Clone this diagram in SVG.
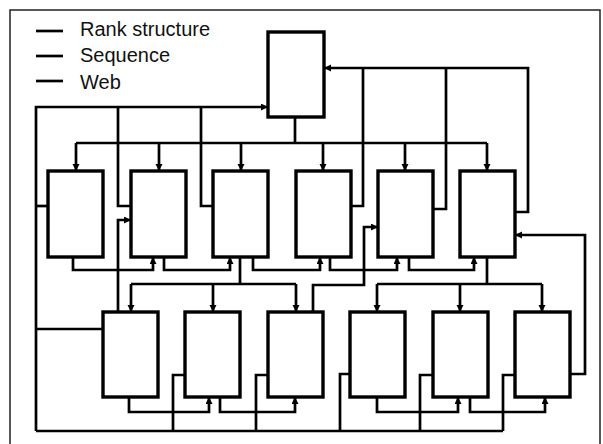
<svg xmlns="http://www.w3.org/2000/svg" width="603" height="444" viewBox="0 0 603 444">
<defs>
<style>
.box{fill:#fff;stroke:#000;stroke-width:3.4}
.ln{fill:none;stroke:#000;stroke-width:2.7;stroke-linejoin:miter}
.arr{marker-end:url(#ah)}
.txt{font-family:"Liberation Sans",Arial,sans-serif;font-size:20px;fill:#111}
.frame{fill:none;stroke:#222;stroke-width:1.5}
</style>
<marker id="ah" markerUnits="userSpaceOnUse" markerWidth="8" markerHeight="8" refX="7" refY="3.5" orient="auto">
<path d="M0,0 L7,3.5 L0,7 z" fill="#000"/>
</marker>
</defs>
<rect width="603" height="444" fill="#fff"/>
<path class="frame" d="M10,446 V10 H600 V446"/>
<g id="legend">
<line class="ln" x1="36" y1="31" x2="63" y2="31"/>
<line class="ln" x1="36" y1="56" x2="63" y2="56"/>
<line class="ln" x1="36" y1="81" x2="63" y2="81"/>
<text class="txt" x="80" y="36">Rank structure</text>
<text class="txt" x="80" y="62">Sequence</text>
<text class="txt" x="80" y="89">Web</text>
</g>
<g id="connectors">
<!-- rank structure -->
<path class="ln" d="M295,117 V143 M76,143 H487"/>
<path class="ln arr" d="M76,143 V171"/>
<path class="ln arr" d="M159,143 V171"/>
<path class="ln arr" d="M241,143 V171"/>
<path class="ln arr" d="M323,143 V171"/>
<path class="ln arr" d="M405,143 V171"/>
<path class="ln arr" d="M487,143 V171"/>
<path class="ln" d="M240,257 V284 M131,284 H296"/>
<path class="ln arr" d="M131,284 V312"/>
<path class="ln arr" d="M213,284 V312"/>
<path class="ln arr" d="M296,284 V312"/>
<path class="ln" d="M487,257 V284 M377,284 H542"/>
<path class="ln arr" d="M377,284 V312"/>
<path class="ln arr" d="M460,284 V312"/>
<path class="ln arr" d="M542,284 V312"/>
<!-- sequence -->
<path class="ln arr" d="M73,257 V270 H153 V257"/>
<path class="ln arr" d="M164,257 V270 H230 V257"/>
<path class="ln arr" d="M253,257 V270 H320 V257"/>
<path class="ln arr" d="M330,257 V270 H397 V257"/>
<path class="ln arr" d="M409,257 V270 H474 V257"/>
<path class="ln arr" d="M129,397 V412 H209 V397"/>
<path class="ln arr" d="M220,397 V412 H295 V397"/>
<path class="ln arr" d="M377,397 V412 H458 V397"/>
<path class="ln arr" d="M470,397 V412 H545 V397"/>
<!-- web -->
<path class="ln arr" d="M36,431 V107 H268"/>
<path class="ln" d="M118,107 V206 H131"/>
<path class="ln" d="M201,107 V206 H213"/>
<path class="ln" d="M36,206 H48"/>
<path class="ln" d="M36,329 H103"/>
<path class="ln arr" d="M118,312 V220 H131"/>
<path class="ln" d="M36,431 H503"/>
<path class="ln" d="M173,431 V375 H185"/>
<path class="ln" d="M256,431 V375 H268"/>
<path class="ln" d="M340,431 V374 H350"/>
<path class="ln" d="M420,431 V375 H433"/>
<path class="ln" d="M503,431 V375 H515"/>
<path class="ln" d="M351,206 H363 V68"/>
<path class="ln" d="M433,209 H446 V68"/>
<path class="ln arr" d="M515,212 H528 V68 H324"/>
<path class="ln arr" d="M313,312 V285 H364 V227 H378"/>
<path class="ln arr" d="M570,374 H585 V235 H515"/>
</g>
<g id="top"><rect class="box" x="268" y="32" width="56" height="85"/></g>
<g id="r1n1"><rect class="box" x="48" y="171" width="55" height="86"/></g>
<g id="r1n2"><rect class="box" x="131" y="171" width="55" height="86"/></g>
<g id="r1n3"><rect class="box" x="213" y="171" width="55" height="86"/></g>
<g id="r1n4"><rect class="box" x="296" y="171" width="55" height="86"/></g>
<g id="r1n5"><rect class="box" x="378" y="171" width="55" height="86"/></g>
<g id="r1n6"><rect class="box" x="460" y="171" width="55" height="86"/></g>
<g id="r2n1"><rect class="box" x="103" y="312" width="55" height="85"/></g>
<g id="r2n2"><rect class="box" x="185" y="312" width="55" height="85"/></g>
<g id="r2n3"><rect class="box" x="268" y="312" width="55" height="85"/></g>
<g id="r2n4"><rect class="box" x="350" y="312" width="55" height="85"/></g>
<g id="r2n5"><rect class="box" x="433" y="312" width="55" height="85"/></g>
<g id="r2n6"><rect class="box" x="515" y="312" width="55" height="85"/></g>
</svg>
